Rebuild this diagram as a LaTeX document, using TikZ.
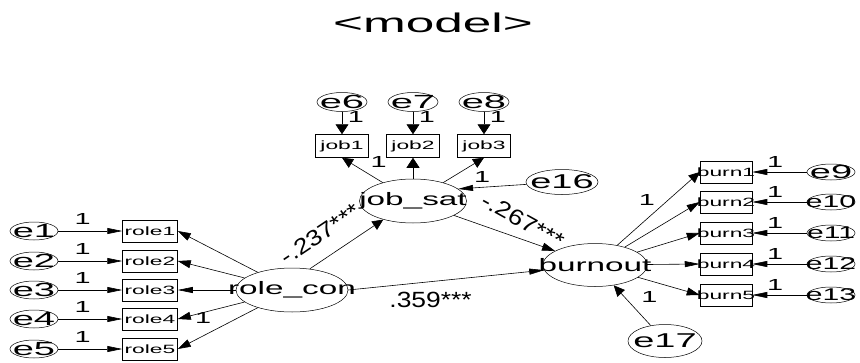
\documentclass[tikz,border=0pt]{standalone}
\usepackage{fontspec}
\setmainfont{Liberation Sans}
\usetikzlibrary{shapes.geometric,arrows.meta}
\newcommand{\titletxt}[1]{\scalebox{1.9}[1]{\fontsize{27}{27}\selectfont #1}}
\newcommand{\latxt}[1]{\scalebox{1.85}[1]{\fontsize{18}{18}\selectfont #1}}
\newcommand{\errtxt}[3]{\scalebox{#1}[1]{\fontsize{#2}{#2}\selectfont #3}}
\newcommand{\boxtxt}[1]{\makebox[0pt]{\scalebox{1.9}[1]{\fontsize{12}{12}\selectfont #1}}}
\newcommand{\onetxt}{\scalebox{1.8}[1]{\fontsize{16}{16}\selectfont 1}}
\newcommand{\numtxt}[1]{\scalebox{1.2}[1]{\fontsize{22}{22}\selectfont #1}}
\tikzset{
  lat/.style={draw, ellipse, inner sep=0pt, line width=0.5pt},
  err/.style={draw, ellipse, inner sep=0pt, line width=0.5pt},
  obs/.style={draw, rectangle, inner sep=0pt, line width=0.5pt, minimum width=55pt, minimum height=22pt},
  lbl/.style={inner sep=0pt},
  conn/.style={line width=0.6pt},
  aH/.style={conn, -{Triangle[length=15pt,width=6pt]}},
  aM/.style={conn, -{Triangle[length=13pt,width=8pt]}},
  aD/.style={conn, -{Triangle[length=11pt,width=10pt]}},
  aV/.style={conn, -{Triangle[length=10pt,width=13pt]}},
}
\begin{document}
\begin{tikzpicture}[x=1pt,y=-1pt]
\path[use as bounding box] (0,0) rectangle (860,362);
\node[lbl] (title) at (433,23) {\titletxt{<model>}};
% left block
\foreach \i/\y in {1/231,2/261,3/290,4/319,5/349}{
  \node[err, minimum width=48pt, minimum height=18pt, label={[lbl]center:\errtxt{2.0}{19}{e\i}}] (e\i) at (34,\y) {};
  \node[obs] (role\i) at (150,\y) {\boxtxt{role\i}};
  \draw[aH] (e\i) -- node[lbl, pos=0.38, yshift=12pt] (we\i) {\onetxt} (role\i);
}
% top block
\foreach \i/\ee/\x in {1/6/342,2/7/413,3/8/484}{
  \node[err, minimum width=50pt, minimum height=19pt, label={[lbl]center:\errtxt{2.1}{19}{e\ee}}] (e\ee) at (\x,102) {};
  \node[obs, minimum width=53pt, minimum height=23pt] (job\i) at (\x,146) {\boxtxt{job\i}};
  \draw[aV] (e\ee) -- node[lbl, pos=0.22, xshift=14pt] (we\ee) {\onetxt} (job\i);
}
% right block
\foreach \i/\y in {1/172,2/202,3/233,4/264,5/295}{
  \node[obs, minimum width=52pt] (burn\i) at (726,\y) {\boxtxt{burn\i}};
}
\node[err, minimum width=48pt, minimum height=16pt, label={[lbl]center:\errtxt{2.0}{19}{e9}}] (e9) at (831,172) {};
\foreach \i/\ee/\y in {2/10/202,3/11/233,4/12/264,5/13/295}{
  \node[err, minimum width=48pt, minimum height=16pt, label={[lbl]center:\errtxt{1.77}{17}{e\ee}}] (e\ee) at (831,\y) {};
}
\foreach \i/\ee in {1/9,2/10,3/11,4/12,5/13}{
  \draw[aH] (e\ee) -- node[lbl, pos=0.58, yshift=10pt] (we\ee) {\onetxt} (burn\i);
}
% latent variables
\node[lat, minimum width=112pt, minimum height=44pt, label={[lbl]center:\latxt{role\_con}}] (rc) at (292,290) {};
\node[lat, minimum width=107pt, minimum height=44pt, label={[lbl]center:\latxt{job\_sat}}] (js) at (413,201) {};
\node[lat, minimum width=104pt, minimum height=43pt, label={[lbl]center:\latxt{burnout}}] (bo) at (595,265) {};
\node[err, minimum width=72pt, minimum height=25pt, label={[lbl]center:\errtxt{1.9}{20}{e16}}] (e16) at (562,182) {};
\node[err, minimum width=74pt, minimum height=33pt, label={[lbl]center:\errtxt{1.9}{20}{e17}}] (e17) at (665,341) {};
% connectors
\draw[aM] (rc) -- (role1.east);
\draw[aM] (rc) -- (role2.east);
\draw[aH] (rc) -- (role3.east);
\draw[aM] (rc) -- node[lbl, pos=0.62, yshift=-5pt] (wr4) {\onetxt} (role4.east);
\draw[aM] (rc) -- (role5.east);
\draw[aD] (js) -- node[lbl, pos=0.3, xshift=8pt, yshift=13pt] (wj1) {\onetxt} (job1.south);
\draw[aV] (js) -- (job2);
\draw[aD] (js) -- (job3.south);
\draw[aH] (e16) -- node[lbl, pos=0.65, yshift=10pt] (w16) {\onetxt} (js.15);
\draw[aD] (rc.50) -- node[lbl, sloped, pos=0.32, above=15pt] (p1) {\numtxt{-.237***}} (js.212);
\draw[aM] (js) -- node[lbl, pos=0.68, yshift=19pt, rotate=-29] (p2) {\numtxt{-.267***}} (bo);
\draw[aH] (rc.east) -- node[lbl, pos=0.42, yshift=-18pt] (p3) {\numtxt{.359***}} (bo);
\draw[aD] (bo) -- node[lbl, pos=0.36, yshift=19pt] (wb1) {\onetxt} (burn1.west);
\draw[aM] (bo) -- (burn2.west);
\draw[aM] (bo) -- (burn3.west);
\draw[aH] (bo) -- (burn4.west);
\draw[aM] (bo) -- (burn5.west);
\draw[aD] (e17) -- node[lbl, pos=0.71, xshift=25pt] (w17) {\onetxt} (bo);
\end{tikzpicture}
\end{document}
